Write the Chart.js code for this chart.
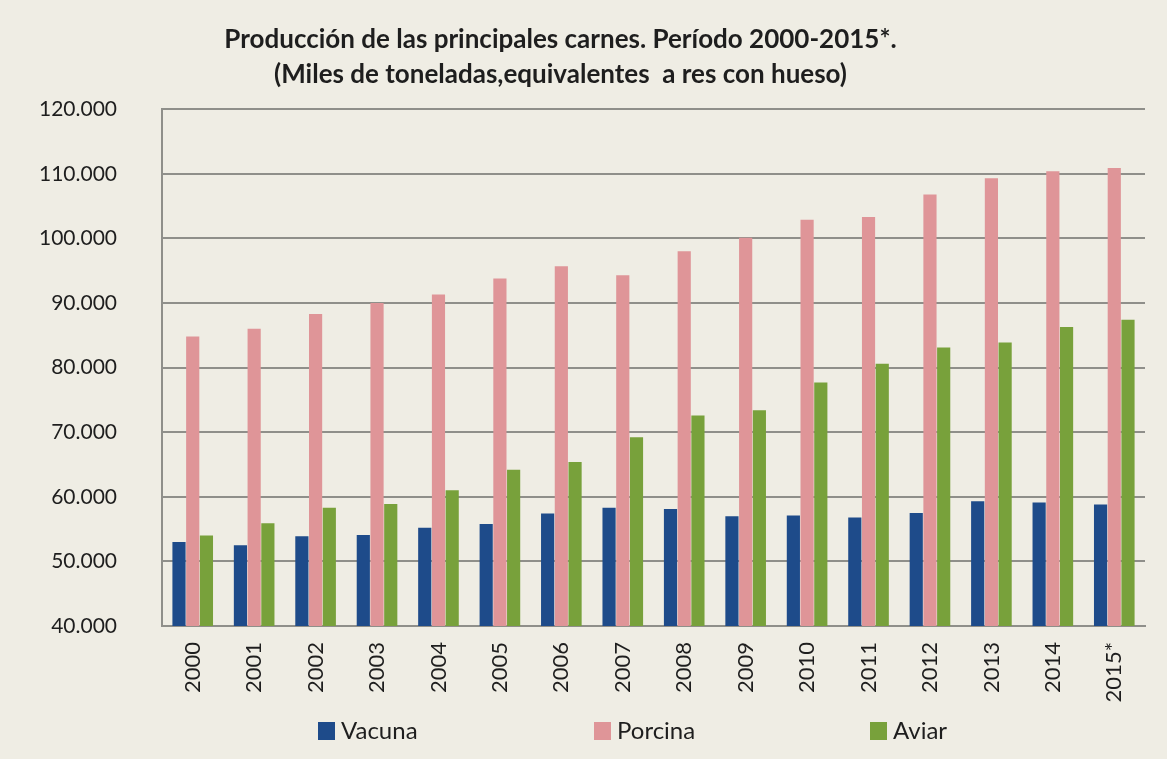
<!DOCTYPE html>
<html>
<head>
<meta charset="utf-8">
<script src="https://cdn.jsdelivr.net/npm/chart.js@4"></script>
<style>
  html, body { margin: 0; padding: 0; background: #efede4; }
  #wrap { width: 1167px; height: 759px; }
</style>
</head>
<body>
<div id="wrap"><canvas id="c" width="1167" height="759"></canvas></div>
<script>
const years = ['2000', '2001', '2002', '2003', '2004', '2005', '2006', '2007',
               '2008', '2009', '2010', '2011', '2012', '2013', '2014', '2015*'];

const vacuna = [53000, 52500, 53900, 54100, 55200, 55800, 57400, 58300,
                58100, 57000, 57100, 56800, 57500, 59300, 59100, 58800];
const porcina = [84800, 86000, 88300, 90000, 91300, 93800, 95700, 94300,
                 98000, 100100, 102900, 103300, 106800, 109300, 110400, 110900];
const aviar = [54000, 55900, 58300, 58900, 61000, 64200, 65400, 69200,
               72600, 73400, 77700, 80600, 83100, 83900, 86300, 87400];

const yMin = 40000;
const yMax = 120000;
const yStep = 10000;

const titleLines = [
  'Producción de las principales carnes. Período 2000-2015*.',
  '(Miles de toneladas,equivalentes  a res con hueso)'
];

const GRID = '#8f8f8a';
const TEXT = '#1e1e1e';

// 120000 -> "120.000"
const fmt = v => String(v).replace(/\B(?=(\d{3})+(?!\d))/g, '.');

// the legend items are spread far apart, wider than the built-in legend allows
const wideLegend = {
  id: 'wideLegend',
  afterDraw(chart) {
    const { ctx, chartArea } = chart;
    const y = 731;
    ctx.save();
    ctx.font = '24px Lato';
    ctx.textBaseline = 'middle';
    chart.data.datasets.forEach((ds, i) => {
      const x = chartArea.left + 156 + i * 276;
      ctx.fillStyle = ds.backgroundColor;
      ctx.fillRect(x, y - 9, 17, 18);
      ctx.fillStyle = TEXT;
      ctx.fillText(ds.label, x + 23, y);
    });
    ctx.restore();
  }
};

const ctx = document.getElementById('c').getContext('2d');

new Chart(ctx, {
  type: 'bar',
  data: {
    labels: years,
    datasets: [
      { label: 'Vacuna', data: vacuna, backgroundColor: '#1e4b8a' },
      { label: 'Porcina', data: porcina, backgroundColor: '#df9598' },
      { label: 'Aviar', data: aviar, backgroundColor: '#78a13b' }
    ]
  },
  options: {
    responsive: false,
    animation: false,
    categoryPercentage: 0.67,
    barPercentage: 0.96,
    layout: { padding: { top: 22, left: -24, right: 22, bottom: 43 } },
    scales: {
      x: {
        grid: { display: false, drawTicks: false },
        border: { color: GRID, width: 2 },
        afterFit: s => { s.height = 90; },
        ticks: {
          color: TEXT,
          font: { family: 'Lato', size: 22 },
          minRotation: 90,
          maxRotation: 90,
          padding: 16
        }
      },
      y: {
        min: yMin,
        max: yMax,
        grid: { color: GRID, lineWidth: 2, drawTicks: false },
        border: { color: GRID, width: 2 },
        afterFit: s => { s.width = 186; },
        ticks: {
          stepSize: yStep,
          color: TEXT,
          font: { family: 'Lato', size: 21 },
          padding: 45,
          callback: v => fmt(v)
        }
      }
    },
    plugins: {
      title: {
        display: true,
        text: titleLines,
        color: TEXT,
        font: { family: 'Lato', size: 26, weight: 'bold', lineHeight: 1.35 },
        padding: { top: 0, bottom: 17 }
      },
      legend: { display: false },
      tooltip: { enabled: false }
    }
  },
  plugins: [wideLegend]
});
</script>
</body>
</html>
